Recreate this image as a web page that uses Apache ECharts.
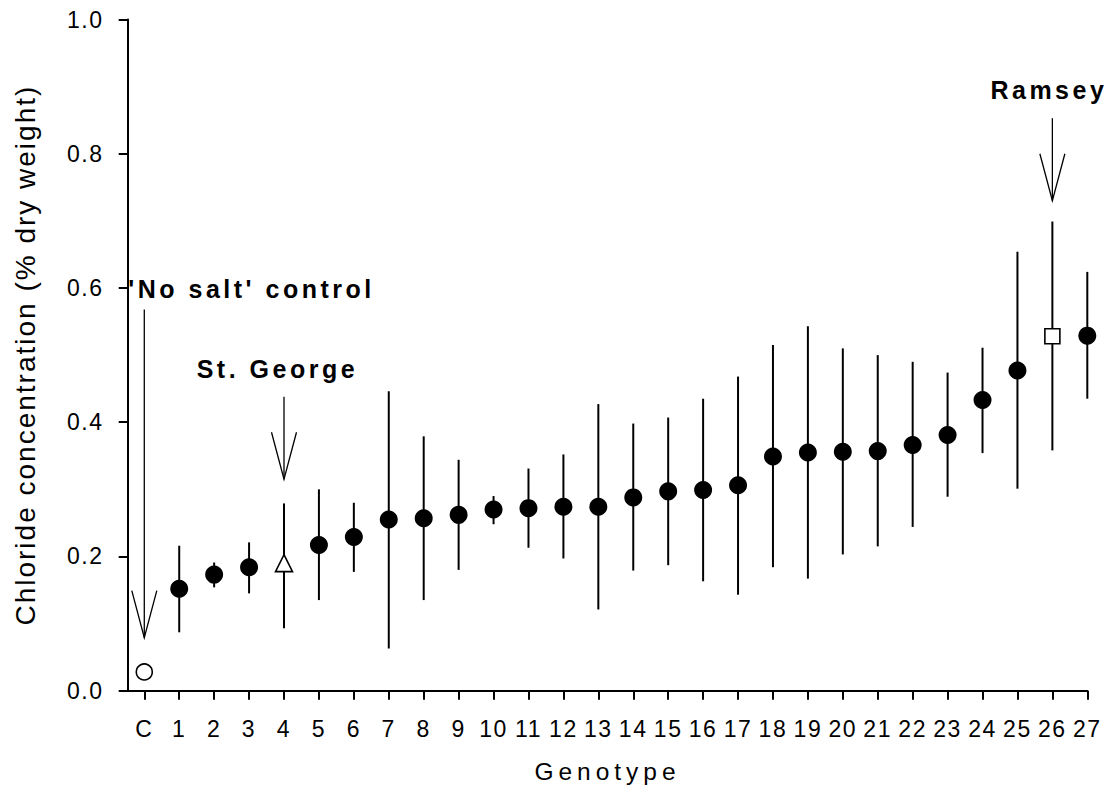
<!DOCTYPE html>
<html><head><meta charset="utf-8">
<script src="https://cdn.jsdelivr.net/npm/echarts@6/dist/echarts.min.js"></script>
<style>
html,body{margin:0;padding:0;background:#fff;}
#chart{width:1112px;height:794px;}
#chart text[style*="23px"]{letter-spacing:1.6px;}
#chart text[style*="24.5px"]{letter-spacing:5px;}
#chart text[style*="28px"]{letter-spacing:2px;}
#chart text[style*="25px"]{letter-spacing:3.5px;}
</style></head><body><div id="chart"></div>
<script>
// ---- data ----
const categories = ['C','1','2','3','4','5','6','7','8','9','10','11','12','13','14','15','16','17','18','19','20','21','22','23','24','25','26','27'];
const means = [0.028,0.152,0.173,0.184,0.19,0.217,0.229,0.255,0.257,0.262,0.270,0.272,0.274,0.274,0.288,0.297,0.299,0.306,0.349,0.355,0.356,0.357,0.366,0.381,0.433,0.477,0.528,0.529];
const upper = [null,0.216,0.191,0.221,0.279,0.300,0.280,0.446,0.379,0.344,0.290,0.331,0.352,0.427,0.398,0.407,0.435,0.468,0.515,0.543,0.510,0.500,0.490,0.474,0.511,0.654,0.699,0.624];
const lower = [null,0.087,0.154,0.145,0.093,0.135,0.177,0.063,0.135,0.180,0.248,0.213,0.197,0.121,0.179,0.187,0.163,0.143,0.184,0.167,0.203,0.215,0.244,0.289,0.354,0.301,0.358,0.435];
const yTicks = [0, 0.2, 0.4, 0.6, 0.8, 1.0];
// annotations (arrows in data coordinates)
const annotationTexts = ["'No salt' control", 'St. George', 'Ramsey'];
const arrowIndex = [0, 4, 26];
const arrowTop = [0.568, 0.438, 0.853];
const arrowTip = [0.079, 0.315, 0.730];
const labelIndex = [3.07, 3.81, 25.9];
const labelValue = [0.598, 0.480, 0.895];

// ---- chart ----
const FONT = '"Liberation Sans", Arial, Helvetica, sans-serif';
const openSymbols = {0: 'circle', 4: 'triangle', 26: 'rect'};
const openSizes = {0: 16, 4: 17, 26: 15};

const pointData = means.map((m, i) => {
  if (openSymbols[i] !== undefined) {
    return {value: [i, m], symbol: openSymbols[i], symbolSize: openSizes[i],
      itemStyle: {color: '#fff', borderColor: '#000', borderWidth: 1.6, opacity: 1}};
  }
  return {value: [i, m]};
});
const errData = [];
means.forEach((m, i) => { if (upper[i] != null) errData.push([i, upper[i], lower[i]]); });
const arrowData = arrowIndex.map((x, i) => [x, arrowTop[i], arrowTip[i]]);
const labelData = labelIndex.map((x, i) => [x, labelValue[i], i]);
const tickIdx = categories.map((c, i) => i);

const chart = echarts.init(document.getElementById('chart'), null, {renderer: 'svg'});
chart.setOption({
  animation: false,
  backgroundColor: '#fff',
  grid: {left: 127.7, right: 24.7, top: 19.5, bottom: 103.3, containLabel: false},
  xAxis: {
    type: 'value', min: -0.475, max: 27,
    name: 'Genotype', nameLocation: 'middle', nameGap: 68,
    nameTextStyle: {fontFamily: FONT, fontSize: 24.5, color: '#000'},
    axisLine: {show: true, onZero: false, lineStyle: {color: '#000', width: 2}},
    axisTick: {show: true, customValues: tickIdx, length: 9, lineStyle: {color: '#000', width: 2}},
    axisLabel: {show: true, customValues: tickIdx, formatter: v => categories[Math.round(v)],
      fontFamily: FONT, fontSize: 23, color: '#000', margin: 27},
    splitLine: {show: false}
  },
  yAxis: {
    type: 'value', min: 0, max: 1, interval: 0.2,
    name: 'Chloride concentration (% dry weight)', nameLocation: 'middle', nameGap: 88,
    nameTextStyle: {fontFamily: FONT, fontSize: 28, color: '#000'},
    axisLine: {show: true, onZero: false, lineStyle: {color: '#000', width: 2}},
    axisTick: {show: true, length: 9, lineStyle: {color: '#000', width: 2}},
    axisLabel: {fontFamily: FONT, fontSize: 23, color: '#000', margin: 24,
      formatter: v => v.toFixed(1)},
    splitLine: {show: false}
  },
  series: [
    {
      type: 'custom', name: 'error', z: 2,
      data: errData,
      renderItem: (params, api) => {
        const a = api.coord([api.value(0), api.value(1)]);
        const b = api.coord([api.value(0), api.value(2)]);
        return {type: 'line', shape: {x1: a[0], y1: a[1], x2: b[0], y2: b[1]},
          style: {stroke: '#000', lineWidth: 2}};
      }
    },
    {
      type: 'scatter', name: 'mean', z: 3,
      symbol: 'circle', symbolSize: 18,
      itemStyle: {color: '#000', opacity: 1},
      data: pointData
    },
    {
      type: 'custom', name: 'arrows', z: 4, silent: true,
      data: arrowData,
      renderItem: (params, api) => {
        const t = api.coord([api.value(0), api.value(1)]);
        const p = api.coord([api.value(0), api.value(2)]);
        const st = {stroke: '#000', lineWidth: 1.3, fill: null};
        return {type: 'group', children: [
          {type: 'line', shape: {x1: t[0], y1: t[1], x2: p[0], y2: p[1]}, style: st},
          {type: 'polyline', shape: {points: [[p[0] - 12.5, p[1] - 47], [p[0], p[1]], [p[0] + 12.5, p[1] - 47]]}, style: st}
        ]};
      }
    },
    {
      type: 'custom', name: 'labels', z: 5, silent: true,
      data: labelData,
      renderItem: (params, api) => {
        const c = api.coord([api.value(0), api.value(1)]);
        return {type: 'text', x: c[0], y: c[1], style: {
          text: annotationTexts[api.value(2)], fontFamily: FONT, fontWeight: 'bold', fontSize: 25,
          fill: '#000', align: 'center', verticalAlign: 'middle'}};
      }
    }
  ]
});
</script></body></html>
